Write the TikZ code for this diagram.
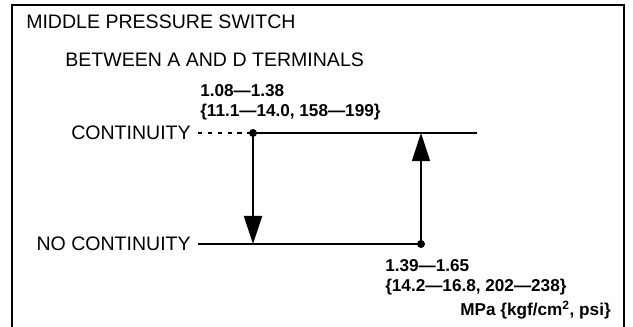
\documentclass[tikz,border=0pt]{standalone}
\usepackage{fontspec}
\setmainfont{Liberation Sans}
\usetikzlibrary{arrows.meta}

\begin{document}
\begin{tikzpicture}[x=0.025cm, y=-0.025cm, >={Triangle[length=0.7cm, width=0.45cm]},
    lbl/.style={inner sep=0pt, font=\fontsize{13.9}{16}\selectfont},
    val/.style={inner sep=0pt, align=left, font=\bfseries\fontsize{12.2}{14.9}\selectfont}]
\useasboundingbox (0,0) rectangle (633,327);
% frame (open at the bottom)
\draw[line width=0.9pt] (12,327) -- (12,5) -- (624,5) -- (624,327);
% headings
\node[lbl, anchor=base west] (title) at (26,29) {MIDDLE PRESSURE SWITCH};
\node[lbl, anchor=base west] (sub) at (65,67) {BETWEEN A AND D TERMINALS};
% switch states
\node[lbl, anchor=east] (cont) at (191,133) {CONTINUITY};
\node[lbl, anchor=east] (nocont) at (191,244) {NO CONTINUITY};
\coordinate (on) at (253,133);
\coordinate (off) at (421,244);
\coordinate (contend) at (477,133);
% continuity level
\draw[line width=1pt, dash pattern=on 3pt off 4pt] ([xshift=0.175cm]cont.east) -- (on);
\draw[line width=1.3pt] (on) -- (contend);
\fill (on) circle (0.1cm);
% no continuity level
\draw[line width=1.3pt] ([xshift=0.175cm]nocont.east) -- (off);
\fill (off) circle (0.1cm);
% pressure falls -> opens, pressure rises -> closes
\draw[->, line width=1.7pt] (on) -- (on |- off);
\draw[->, line width=0.8pt] (off) -- (off |- on);
% set points (base = last line)
\node[val, anchor=base west] (onval) at (200,117) {1.08---1.38\\\{11.1---14.0, 158---199\}};
\node[val, anchor=base west] (offval) at (385,292) {1.39---1.65\\\{14.2---16.8, 202---238\}};
\node[val, anchor=base east] (units) at (611,316) {MPa \{kgf/cm\textsuperscript{2}, psi\}};
\end{tikzpicture}
\end{document}
